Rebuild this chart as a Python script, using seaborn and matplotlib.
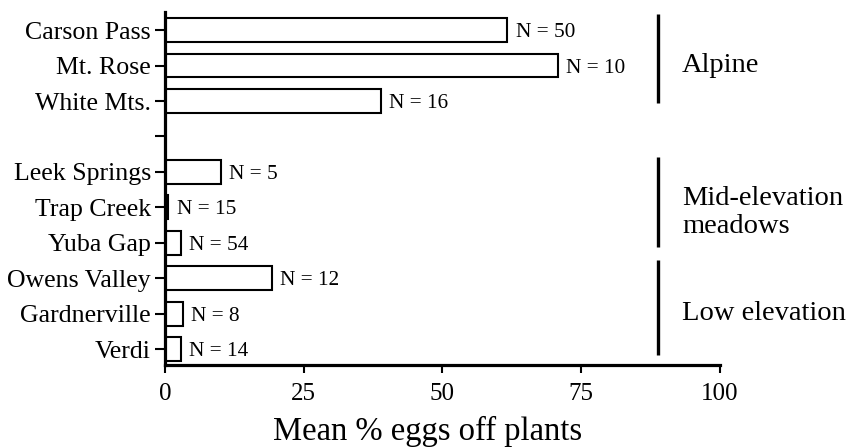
import matplotlib
matplotlib.use("Agg")
import matplotlib.pyplot as plt
import seaborn as sns
import pandas as pd

sites = ["Carson Pass", "Mt. Rose", "White Mts.", "Leek Springs", "Trap Creek",
         "Yuba Gap", "Owens Valley", "Gardnerville", "Verdi"]
values = [61.7, 70.8, 38.9, 10.1, 0.6, 2.8, 19.3, 3.2, 2.8]
n_labels = ["N = 50", "N = 10", "N = 16", "N = 5", "N = 15", "N = 54", "N = 12", "N = 8", "N = 14"]
order = ["Carson Pass", "Mt. Rose", "White Mts.", " ", "Leek Springs", "Trap Creek",
         "Yuba Gap", "Owens Valley", "Gardnerville", "Verdi"]
groups = ["Alpine", "Mid-elevation\nmeadows", "Low elevation"]
xticks = [0, 25, 50, 75, 100]

# layout of group brackets (y extents in category positions) and label anchors
group_line_spans = [(-0.45, 2.06), (3.59, 6.13), (6.5, 9.18)]
group_label_y = [1.0, 5.15, 8.0]

sns.set_theme(style="ticks")
plt.rcParams["font.family"] = ["Liberation Serif", "DejaVu Serif"]

df = pd.DataFrame({"site": sites, "value": values})

fig = plt.figure(figsize=(8.49, 4.47), dpi=100)
ax = fig.add_axes([0.1943, 0.1834, 0.6537, 0.7896])

sns.barplot(data=df, x="value", y="site", order=order, orient="h", ax=ax,
            color="white", edgecolor="black", linewidth=1.5, width=0.67,
            errorbar=None, saturation=1)

pos = {s: i for i, s in enumerate(order)}
for s, v, lab in zip(sites, values, n_labels):
    ax.annotate(lab, xy=(v, pos[s]), xytext=(6.0, 0), textcoords="offset points",
                ha="left", va="center_baseline", fontsize=15.3, color="black")

for g, (a, b), gy in zip(groups, group_line_spans, group_label_y):
    ax.plot([88.8, 88.8], [a, b], color="black", lw=2.4,
            clip_on=False, solid_capstyle="butt")
    ax.text(93.2, gy, g, ha="left", va="center", fontsize=20.5,
            color="black", clip_on=False, linespacing=1.15)

ax.set_xlim(0, 100)
ax.set_ylim(9.45, -0.51)
ax.set_xticks(xticks)
ax.set_xticklabels([str(t) for t in xticks], fontsize=18)
ax.tick_params(axis="y", labelsize=18.6, length=7, width=1.5, pad=3, colors="black")
ax.tick_params(axis="x", length=6, width=1.5, pad=7, colors="black")
ax.set_ylabel("")
ax.set_xlabel("Mean % eggs off plants", fontsize=23.5, color="black")
ax.xaxis.label.set_verticalalignment("baseline")
ax.xaxis.set_label_coords(0.474, -0.213)

for side in ["top", "right"]:
    ax.spines[side].set_visible(False)
for side in ["left", "bottom"]:
    ax.spines[side].set_linewidth(2.3)
    ax.spines[side].set_color("black")

fig.savefig("out.png", dpi=100)
